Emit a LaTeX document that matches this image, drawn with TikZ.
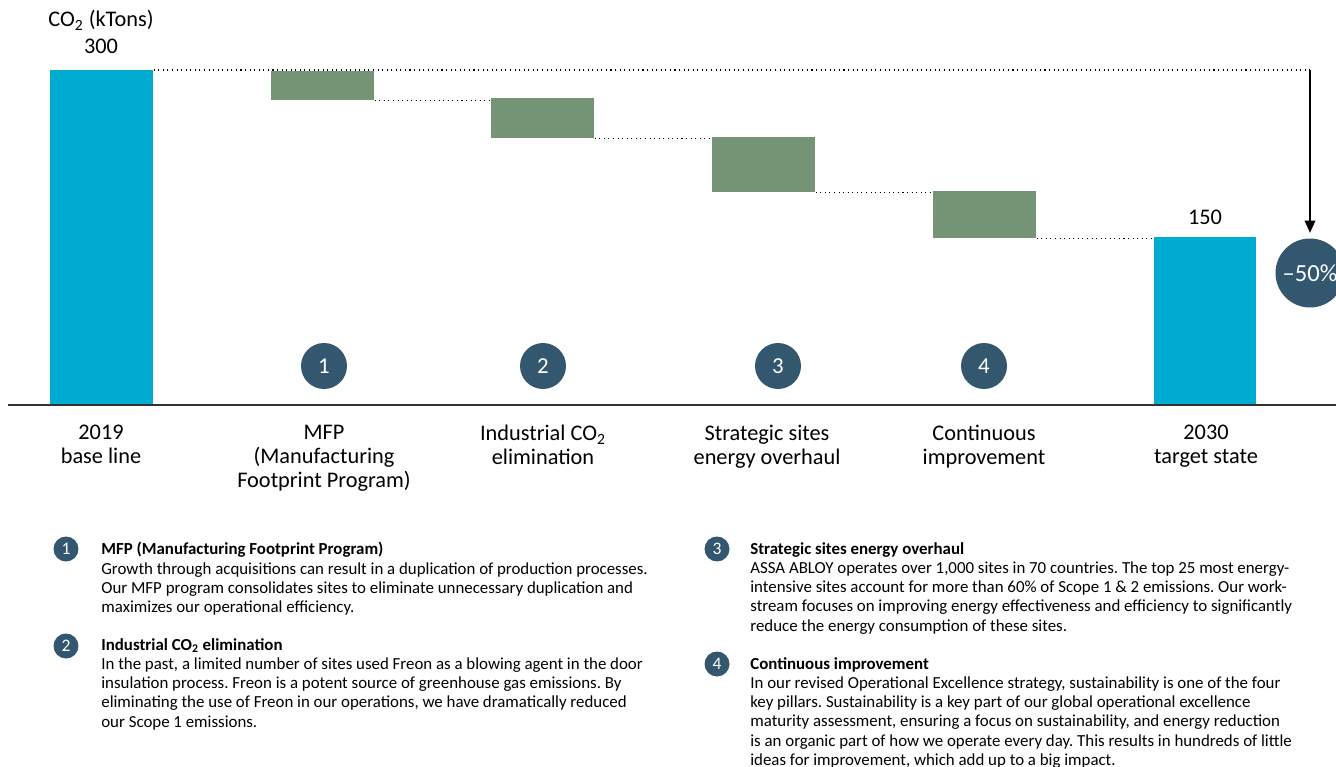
\documentclass[tikz,border=0pt]{standalone}
\usepackage{fontspec}
\setmainfont{Carlito}
\frenchspacing
\usetikzlibrary{arrows.meta,positioning}
\definecolor{barblue}{RGB}{0,171,210}
\definecolor{dropgreen}{RGB}{116,148,117}
\definecolor{dotblue}{RGB}{51,87,111}
\definecolor{axisgray}{RGB}{51,51,51}
\begin{document}
\begin{tikzpicture}[x=0.02cm,y=-0.02cm,
  basebar/.style={fill=barblue,inner sep=0,anchor=north west,minimum width=2.06cm},
  dropbar/.style={fill=dropgreen,inner sep=0,anchor=north west,minimum width=2.06cm},
  numdot/.style={circle,fill=dotblue,text=white,inner sep=0,minimum size=0.92cm,font=\fontsize{13}{14}\selectfont},
  smalldot/.style={circle,fill=dotblue,text=white,inner sep=0,minimum size=0.5cm,font=\fontsize{10}{11}\selectfont},
  chartlabel/.style={align=center,anchor=north,inner sep=0,font=\fontsize{12.7}{13.7}\selectfont},
  note/.style={align=left,anchor=north west,inner sep=0,font=\fontsize{9.6}{10.95}\selectfont},
  guide/.style={dotted,line width=0.6pt}]
\clip (0,0) rectangle (1336,767);
% bars
\node[basebar,minimum height=6.7cm] (base) at (50,70) {};
\node[dropbar,minimum height=0.58cm] (drop1) at (271,71) {};
\node[dropbar,minimum height=0.8cm] (drop2) at (491,98) {};
\node[dropbar,minimum height=1.1cm] (drop3) at (712,137) {};
\node[dropbar,minimum height=0.94cm] (drop4) at (933,191) {};
\node[basebar,minimum width=2.04cm,minimum height=3.36cm] (target) at (1154,237) {};
\draw[axisgray,line width=1.1pt] (8,405) coordinate (axisL) -- (1336,405) coordinate (axisR);
% dotted guides
\coordinate (arrtop) at (1310,70);
\draw[guide] (base.north east) -- (arrtop);
\draw[guide] (drop1.south east) -- (drop1.south east -| drop2.west);
\draw[guide] (drop2.south east) -- (drop2.south east -| drop3.west);
\draw[guide] (drop3.south east) -- (drop3.south east -| drop4.west);
\draw[guide] (drop4.south east) -- (drop4.south east -| target.west);
% reduction
\node[circle,fill=dotblue,text=white,inner sep=0,minimum size=1.38cm,font=\fontsize{14}{16}\selectfont] (pct) at (1310,273) {–50\%};
\draw[line width=1pt,shorten >=3pt,-{Triangle[length=7pt,width=6pt]}] (arrtop) -- (pct.north);
% values
\node[chartlabel,anchor=base] (unit) at (101,27) {CO\textsubscript{2} (kTons)};
\node[chartlabel,anchor=base] (v300) at (101,54) {300};
\node[chartlabel,anchor=base] (v150) at (1205,224) {150};
% numbered dots
\node[numdot] (n1) at (324,366) {1};
\node[numdot] (n2) at (543,366) {2};
\node[numdot] (n3) at (778,366) {3};
\node[numdot] (n4) at (984,366) {4};
% axis labels
\node[chartlabel] (l0) at (101,425) {2019\\base line};
\node[chartlabel] (l1) at (324,425) {MFP\\(Manufacturing\\Footprint Program)};
\node[chartlabel] (l2) at (543,425) {Industrial CO\textsubscript{2}\\elimination};
\node[chartlabel] (l3) at (767,425) {Strategic sites\\energy overhaul};
\node[chartlabel] (l4) at (984,425) {Continuous\\improvement};
\node[chartlabel] (l5) at (1206,425) {2030\\target state};
% notes
\node[smalldot] (d1) at (66,549) {1};
\node[note] (t1) at (101,542) {\textbf{MFP (Manufacturing Footprint Program)}\\
Growth through acquisitions can result in a duplication of production processes.\\
Our MFP program consolidates sites to eliminate unnecessary duplication and\\
maximizes our operational efficiency.};
\node[smalldot] (d2) at (66,646) {2};
\node[note] (t2) at (101,638) {\textbf{Industrial CO\textsubscript{2} elimination}\\
In the past, a limited number of sites used Freon as a blowing agent in the door\\
insulation process. Freon is a potent source of greenhouse gas emissions. By\\
eliminating the use of Freon in our operations, we have dramatically reduced\\
our Scope 1 emissions.};
\node[smalldot] (d3) at (717,549) {3};
\node[note] (t3) at (750,542) {\textbf{Strategic sites energy overhaul}\\
ASSA ABLOY operates over 1,000 sites in 70 countries. The top 25 most energy-\\
intensive sites account for more than 60\% of Scope 1 \& 2 emissions. Our work-\\
stream focuses on improving energy effectiveness and efficiency to significantly\\
reduce the energy consumption of these sites.};
\node[smalldot] (d4) at (717,664) {4};
\node[note] (t4) at (750,657) {\textbf{Continuous improvement}\\
In our revised Operational Excellence strategy, sustainability is one of the four\\
key pillars. Sustainability is a key part of our global operational excellence\\
maturity assessment, ensuring a focus on sustainability, and energy reduction\\
is an organic part of how we operate every day. This results in hundreds of little\\
ideas for improvement, which add up to a big impact.};
\end{tikzpicture}
\end{document}
